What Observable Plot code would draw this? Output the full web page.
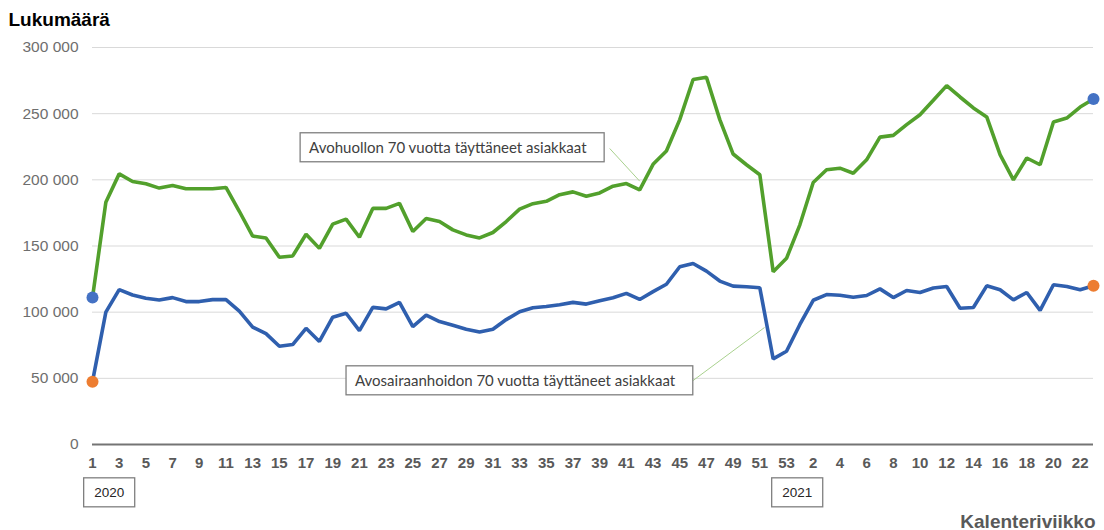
<!DOCTYPE html>
<html><head><meta charset="utf-8">
<script src="https://cdn.jsdelivr.net/npm/d3@7"></script>
<script src="https://cdn.jsdelivr.net/npm/@observablehq/plot@0.6"></script>
<style>
body{margin:0;background:#fff;}
#chart{width:1104px;height:530px;}
</style></head><body><div id="chart"></div>
<script>
// Calendar weeks: 2020 weeks 1–53, 2021 weeks 1–23
const weeks2020 = [1,2,3,4,5,6,7,8,9,10,11,12,13,14,15,16,17,18,19,20,21,22,23,24,25,26,27,28,29,30,31,32,33,34,35,36,37,38,39,40,41,42,43,44,45,46,47,48,49,50,51,52,53];
const weeks2021 = [1,2,3,4,5,6,7,8,9,10,11,12,13,14,15,16,17,18,19,20,21,22,23];
const years = ["2020", "2021"];
const seriesNames = ["Avohuollon 70 vuotta täyttäneet asiakkaat", "Avosairaanhoidon 70 vuotta täyttäneet asiakkaat"];

// Avohuolto (green)
const avohuolto = [111000,183000,204500,198750,197000,193750,195750,193250,193250,193250,194250,176250,157500,156000,141500,142500,
158900,148200,166500,170300,156600,178400,178400,182200,160900,170800,168500,162200,158400,156100,160200,168500,177900,182000,183800,188800,190900,187600,190100,195200,197200,192400,211700,221800,
245500,275800,277500,245500,219500,211400,203800,130600,140700,166000,198000,207600,208800,205000,215100,232300,233600,
241700,249200,260100,271200,262600,254300,247500,219000,200000,216500,211400,243700,246700,255000,261100];
// Avosairaanhoito (blue)
const avosairaanhoito = [47500,100000,117000,113000,110500,109250,111000,108000,108000,109500,109500,100750,88750,83750,74250,75500,
87800,77900,96200,99200,86000,103600,102500,107400,89100,97700,92900,90100,87100,85000,87100,94400,100300,103300,104300,105600,107400,106100,108600,110900,114200,109600,115500,121100,134300,136800,131000,
123500,119700,119200,118400,64700,70500,90700,109000,113300,112800,111300,112600,117600,111000,
116400,114900,118200,119400,103000,103500,119900,116900,109300,114900,101300,120700,119400,116900,119900];
const yTicks = [0, 50000, 100000, 150000, 200000, 250000, 300000];

const weekLabels = [...weeks2020, ...weeks2021];
const idx = weekLabels.map((_, i) => i);
const xTicks = idx.filter(i => i % 2 === 0 && i < idx.length - 1);
const green = idx.map(i => ({i, v: avohuolto[i]}));
const blue = idx.map(i => ({i, v: avosairaanhoito[i]}));
const last = idx.length - 1;
const greenEnds = [green[0], green[last]];
const blueEnds = [blue[0], blue[last]];

const annotations = [
  {x: 16.23, y: 223700, text: seriesNames[0]},
  {x: 19.67, y: 47600, text: seriesNames[1]}
];
const leaders = [
  {x1: 38.75, y1: 223700, x2: 41, y2: 199000},
  {x1: 44.9, y1: 47600, x2: 50.35, y2: 88400}
];
const yearMarks = [{x: 1.25, text: years[0]}, {x: 52.8, text: years[1]}];

const fmt = d => d3.format(",")(d).replace(/,/g, " ");
const FONT = "'Liberation Sans', Arial, sans-serif";

const chart = Plot.plot({
  width: 1104, height: 530,
  marginLeft: 92, marginRight: 11, marginTop: 47, marginBottom: 86,
  style: {fontFamily: FONT, background: "#fff", overflow: "visible"},
  x: {domain: [0, last], axis: null},
  y: {domain: [0, 300000], axis: null},
  marks: [
    Plot.ruleY(yTicks.filter(d => d > 0), {stroke: "#d9d9d9", strokeWidth: 1}),
    Plot.ruleY([0], {stroke: "#747474", strokeWidth: 2}),
    Plot.axisY(yTicks, {tickSize: 0, tickPadding: 14, tickFormat: fmt, fontSize: 15.5, fill: "#6e6e6e"}),
    Plot.axisX(xTicks, {tickSize: 0, tickPadding: 13, tickFormat: i => weekLabels[i], fontSize: 15, fontWeight: "bold", fill: "#595959"}),
    Plot.link(leaders, {x1: "x1", y1: "y1", x2: "x2", y2: "y2", stroke: "#a9d18e", strokeWidth: 1}),
    Plot.line(green, {x: "i", y: "v", stroke: "#52a02c", strokeWidth: 3.6, strokeLinejoin: "miter"}),
    Plot.line(blue, {x: "i", y: "v", stroke: "#2f5fae", strokeWidth: 3.6, strokeLinejoin: "miter"}),
    Plot.dot(greenEnds, {x: "i", y: "v", r: 6, fill: "#4472c4"}),
    Plot.dot(blueEnds, {x: "i", y: "v", r: 6, fill: "#ed7d31"}),
    Plot.text(annotations, {x: "x", y: "y", text: "text", textAnchor: "start", fontFamily: "Lato, 'Open Sans', sans-serif", fontSize: 15, fill: "#404040", className: "boxed-ann"}),
    Plot.text(yearMarks, {x: "x", text: "text", frameAnchor: "bottom", lineAnchor: "middle", dy: 48, fontSize: 13.5, fill: "#262626", className: "boxed-year"}),
    Plot.text(["Lukumäärä"], {frameAnchor: "top-left", lineAnchor: "top", dx: -84, dy: -35, textAnchor: "start", fontSize: 19, fontWeight: "bold", fill: "#000"}),
    Plot.text(["Kalenteriviikko"], {frameAnchor: "bottom-right", lineAnchor: "bottom", dx: 2, dy: 83, textAnchor: "end", fontSize: 19, fontWeight: "bold", fill: "#595959"})
  ]
});
document.getElementById("chart").appendChild(chart);

function box(cls, padL, padR, h) {
  chart.querySelectorAll("g." + cls + " text").forEach(t => {
    const b = t.getBBox();
    const r = document.createElementNS("http://www.w3.org/2000/svg", "rect");
    r.setAttribute("x", b.x - padL);
    r.setAttribute("y", b.y + b.height / 2 - h / 2);
    r.setAttribute("width", b.width + padL + padR);
    r.setAttribute("height", h);
    r.setAttribute("fill", "#fff");
    r.setAttribute("stroke", "#7f7f7f");
    r.setAttribute("stroke-width", "1.3");
    const tr = t.getAttribute("transform");
    if (tr) r.setAttribute("transform", tr);
    t.parentNode.insertBefore(r, t);
  });
}
box("boxed-ann", 9, 17, 29);
box("boxed-year", 10.5, 10.5, 29);
</script></body></html>
